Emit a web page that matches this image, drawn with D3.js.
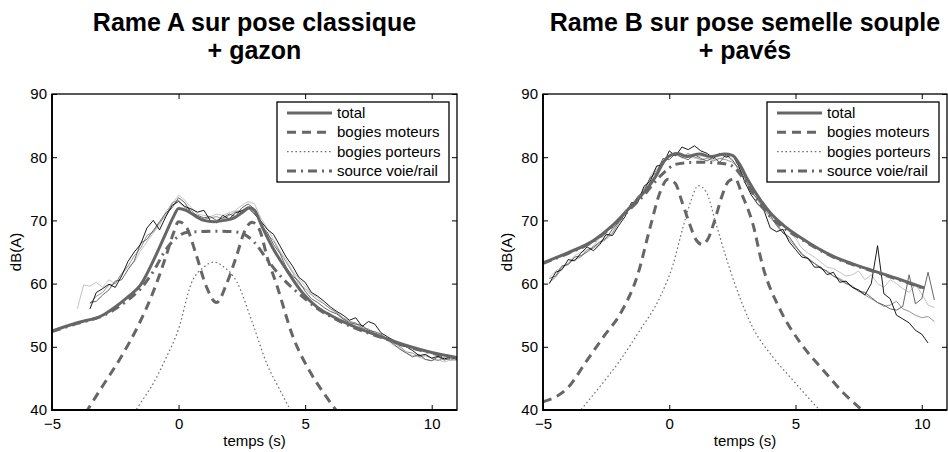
<!DOCTYPE html>
<html>
<head>
<meta charset="utf-8">
<script src="https://cdn.jsdelivr.net/npm/d3@7"></script>
<style>
  body { margin: 0; background: #fff; }
  text { font-family: "Liberation Sans", Arial, Helvetica, sans-serif; }
</style>
</head>
<body>
<svg id="chart" width="948" height="452"></svg>
<script>
// ---------- Rame A : pose classique + gazon ----------
const titleA = ["Rame A sur pose classique", "+ gazon"];

// measured passes, sampled every 0.25 s
const timeMesA = [
  -4, -3.75, -3.5, -3.25, -3, -2.75, -2.5, -2.25, -2, -1.75, -1.5, -1.25,
  -1, -0.75, -0.5, -0.25, 0, 0.25, 0.5, 0.75, 1, 1.25, 1.5, 1.75,
  2, 2.25, 2.5, 2.75, 3, 3.25, 3.5, 3.75, 4, 4.25, 4.5, 4.75,
  5, 5.25, 5.5, 5.75, 6, 6.25, 6.5, 6.75, 7, 7.25, 7.5, 7.75,
  8, 8.25, 8.5, 8.75, 9, 9.25, 9.5, 9.75, 10, 10.25, 10.5, 10.75, 11
];
const mesA1 = [
  null, null, 56.0, 58.6,  59.2, 59.9, 59.4, 61.2,  63.5, 65.0, 66.2, 68.8,
  70.0, 68.5, 70.6, 72.4,  73.0, 72.2, 71.8, 71.3,  71.6, 70.0, 69.6, 70.8,
  70.2, 71.2, 71.5, 72.0,  71.0, 69.9, 68.6, 67.8,  66.0, 64.2, 62.8, 61.0,
  60.2, 58.6, 58.0, 57.2,  56.3, 55.6, 55.0, 54.2,  54.6, 53.2, 54.0, 53.6,
  52.2, 51.6, 51.0, 50.2,  50.0, 49.4, 48.6, 48.8,  48.2, 48.5, 48.1, 48.4, 48.0
];
const mesA2 = [
  null, null, 57.0, 57.2,  58.2, 59.0, 60.4, 60.6,  62.2, 63.6, 66.4, 67.0,
  68.4, 69.8, 71.2, 72.0,  73.6, 72.8, 71.2, 70.8,  70.4, 70.6, 70.0, 70.4,
  71.0, 70.6, 72.0, 72.6,  71.8, 69.2, 68.2, 66.2,  64.8, 62.6, 61.2, 60.4,
  58.8, 57.6, 57.0, 56.2,  55.6, 55.2, 54.4, 53.8,  53.6, 53.4, 52.6, 52.4,
  52.0, 51.2, 50.4, 49.6,  49.0, 48.4, 48.8, 48.0,  47.8, 48.4, 47.9, 48.2, 48.1
];
const mesA3 = [
  null, null, 56.8, 58.0,  58.6, 59.8, 60.0, 61.6,  62.8, 64.4, 65.6, 67.6,
  68.2, 69.6, 70.8, 72.8,  73.2, 72.0, 71.6, 70.6,  70.2, 70.4, 70.6, 70.2,
  70.8, 71.4, 71.6, 72.2,  71.2, 69.6, 67.8, 66.8,  65.0, 63.4, 61.8, 60.0,
  59.2, 58.2, 57.4, 56.8,  56.0, 55.4, 54.6, 54.0,  53.8, 53.0, 52.8, 52.2,
  51.8, 51.0, 50.6, 50.0,  49.2, 49.0, 48.4, 48.6,  48.2, 47.8, 48.3, 47.9, 48.2
];
const mesA4 = [
  56.0, 59.8, 59.6, 60.2,  59.4, 60.6, 60.0, 61.4,  62.6, 63.4, 65.2, 66.6,
  68.0, 69.2, 71.4, 72.6,  74.0, 73.2, 72.0, 71.0,  70.8, 70.6, 71.0, 70.8,
  71.2, 71.6, 72.4, 73.0,  72.6, 70.4, 68.8, 67.0,  65.2, 63.8, 62.0, 60.8,
  59.6, 58.4, 57.8, 56.8,  56.0, 55.4, 54.4, 54.0,  53.6, 53.0, 52.8, 52.2,
  51.6, 51.0, 50.2, 49.8,  49.0, 48.6, 48.4, 48.0,  47.8, 48.0, 47.6, 47.9, 47.8
];

// model: total and its three contributions
const totA_t = [-5, -4, -3, -2.5, -2, -1.5, -1, -0.5, -0.2, 0, 0.3, 0.7, 1.0, 1.4, 1.8, 2.2, 2.5, 2.8, 3.0, 3.3, 3.7, 4.26, 4.9, 5.5, 6, 6.5, 7, 8, 9, 10, 11];
const totA_v = [52.5, 53.8, 55.0, 56.3, 57.9, 59.8, 63.6, 68.0, 70.6, 71.9, 71.6, 70.6, 70.0, 69.8, 70.0, 70.4, 71.2, 72.0, 71.6, 69.0, 65.8, 62.2, 58.5, 56.2, 55.0, 54.0, 53.1, 51.6, 50.2, 49.1, 48.3];

const motA_t = [-4, -3.6, -3, -2.3, -1.6, -1, -0.5, -0.2, 0, 0.3, 0.7, 1.1, 1.5, 1.9, 2.3, 2.6, 2.9, 3.2, 3.5, 3.9, 4.5, 5.2, 5.8, 6.5];
const motA_v = [37.5, 40.0, 43.8, 48.2, 53.3, 58.7, 64.3, 68.0, 69.8, 69.0, 64.5, 59.5, 57.0, 60.0, 64.5, 68.2, 69.7, 68.5, 64.2, 59.5, 51.8, 46.0, 42.3, 38.5];

const porA_t = [-2, -1.6, -1, -0.5, 0, 0.5, 1.0, 1.4, 1.8, 2.3, 2.9, 3.5, 4.0, 4.4, 4.8];
const porA_v = [37.8, 40.5, 44.2, 48.2, 52.8, 60.0, 62.6, 63.4, 62.6, 60.3, 54.0, 47.2, 43.2, 40.2, 37.8];

const srcA_t = [-5, -4, -3, -2, -1.5, -1, -0.5, 0, 0.3, 0.7, 1.5, 2.2, 2.6, 3.0, 3.5, 4, 4.5, 5, 5.5, 6, 7, 8, 9, 10, 11];
const srcA_v = [52.4, 53.7, 54.9, 57.4, 59.2, 61.9, 65.4, 67.5, 68.1, 68.2, 68.3, 68.2, 67.8, 66.5, 63.8, 61.3, 59.3, 57.6, 56.0, 54.8, 52.9, 51.5, 50.1, 49.0, 48.2];

// ---------- Rame B : pose semelle souple + pavés ----------
const titleB = ["Rame B sur pose semelle souple", "+ pavés"];

const timeMesB = [
  -5, -4.75, -4.5, -4.25, -4, -3.75, -3.5, -3.25, -3, -2.75, -2.5, -2.25,
  -2, -1.75, -1.5, -1.25, -1, -0.75, -0.5, -0.25, 0, 0.25, 0.5, 0.75,
  1, 1.25, 1.5, 1.75, 2, 2.25, 2.5, 2.75, 3, 3.25, 3.5, 3.75,
  4, 4.25, 4.5, 4.75, 5, 5.25, 5.5, 5.75, 6, 6.25, 6.5, 6.75,
  7, 7.25, 7.5, 7.75, 8, 8.25, 8.5, 8.75, 9, 9.25, 9.5, 9.75,
  10, 10.25, 10.5
];
const mesB1 = [
  null, 60.0, 61.8, 62.2,  63.8, 63.6, 64.8, 65.8,  65.2, 66.2, 67.8, 67.6,
  69.2, 70.6, 72.8, 72.8,  75.4, 76.2, 78.6, 78.8,  81.0, 80.2, 81.6, 81.2,
  81.8, 81.0, 80.6, 79.8,  80.6, 80.0, 80.4, 78.6,  76.0, 74.0, 72.6, 71.6,
  68.8, 68.2, 68.6, 66.6,  65.4, 64.2, 64.0, 62.6,  62.6, 61.4, 61.8, 60.2,
  60.4, 59.4, 59.0, 58.2,  60.0, 66.0, 58.4, 57.6,  55.0, 54.4, 53.8, 52.6,
  52.0, 50.6, null
];
const mesB2 = [
  null, 60.8, 61.2, 62.8,  63.0, 64.2, 64.4, 65.0,  65.8, 66.6, 67.2, 68.6,
  69.8, 71.2, 72.0, 73.8,  74.6, 76.8, 77.6, 79.8,  79.6, 80.6, 80.0, 79.6,
  80.4, 79.8, 79.4, 80.0,  79.2, 80.4, 79.6, 78.0,  76.6, 74.4, 73.4, 72.0,
  70.8, 69.2, 68.0, 67.4,  66.0, 64.6, 64.0, 63.2,  62.4, 62.0, 61.2, 60.6,
  60.0, 59.6, 58.8, 58.6,  57.8, 57.0, 56.6, 56.0,  55.8, 56.4, 61.4, 56.8,
  57.6, 61.8, 57.4
];
const mesB3 = [
  null, 60.2, 61.0, 62.4,  63.2, 63.8, 64.2, 65.4,  65.6, 66.4, 67.0, 68.0,
  69.6, 71.0, 72.4, 73.2,  75.0, 76.6, 78.0, 79.2,  80.2, 80.4, 80.0, 80.6,
  80.0, 79.6, 79.8, 79.4,  79.8, 79.6, 79.2, 78.4,  76.8, 74.8, 73.2, 71.8,
  70.4, 69.4, 68.2, 67.0,  65.8, 64.8, 63.8, 63.2,  62.6, 61.8, 61.2, 60.8,
  60.2, 59.4, 58.8, 58.2,  57.6, 57.0, 56.4, 56.6,  57.2, 56.0, 55.6, 55.0,
  54.6, 54.8, 54.0
];
const mesB4 = [
  null, 61.0, 62.0, 62.6,  63.2, 64.4, 65.0, 65.2,  66.0, 67.2, 67.6, 68.0,
  70.0, 71.6, 72.0, 73.6,  74.4, 77.0, 78.4, 79.4,  80.0, 80.8, 79.8, 80.4,
  79.8, 80.2, 80.0, 79.6,  79.8, 80.2, 79.4, 78.8,  77.0, 75.6, 73.8, 72.6,
  71.0, 70.0, 69.6, 68.2,  67.2, 65.6, 64.8, 64.2,  63.4, 62.6, 62.4, 61.8,
  61.2, 61.4, 62.0, 60.6,  61.4, 60.0, 59.4, 60.6,  60.0, 59.2, 58.6, 59.8,
  58.4, 56.6, 56.2
];

const totB_t = [-5, -4, -3, -2.3, -1.5, -0.9, -0.5, -0.2, 0.1, 0.35, 0.7, 1.2, 1.65, 2.2, 2.5, 2.8, 3.1, 3.6, 4.0, 4.5, 5.2, 6.5, 7.8, 9.1, 10.1];
const totB_v = [63.3, 64.9, 66.8, 69.0, 72.3, 74.9, 77.2, 79.4, 80.4, 80.6, 80.1, 80.5, 80.1, 80.5, 80.3, 78.8, 76.5, 73.3, 71.2, 69.3, 67.3, 64.3, 62.4, 60.7, 59.3];

const motB_t = [-5, -4, -3.25, -2.6, -1.9, -1.25, -0.75, -0.36, -0.05, 0.25, 0.5, 0.8, 1.05, 1.3, 1.55, 1.8, 2.1, 2.35, 2.6, 2.9, 3.3, 3.7, 4.4, 5.2, 6.1, 6.9, 7.55, 8.2];
const motB_v = [41.3, 43.6, 47.9, 51.6, 55.5, 61.4, 69.0, 74.5, 76.5, 75.8, 73.0, 69.5, 67.0, 66.2, 67.2, 70.0, 74.0, 76.2, 76.6, 73.9, 69.6, 62.8, 55.8, 50.6, 46.3, 42.7, 40.3, 38.2];

const porB_t = [-3.8, -3.4, -2.85, -1.94, -1.15, -0.36, 0.15, 0.55, 0.85, 1.15, 1.45, 1.85, 2.2, 2.55, 3.3, 4.1, 4.9, 5.7, 6.2];
const porB_v = [38.5, 40.5, 43.2, 47.9, 52.7, 57.9, 63.0, 69.0, 73.0, 75.5, 74.6, 69.5, 64.8, 60.5, 53.1, 48.4, 44.7, 41.1, 39.0];

const srcB_t = [-5, -4, -3, -2.3, -1.5, -1, -0.5, -0.2, 0.2, 0.6, 1.2, 1.8, 2.3, 2.6, 2.9, 3.2, 3.6, 4.0, 4.5, 5.2, 6.5, 7.8, 9.1, 10.1];
const srcB_v = [63.2, 64.8, 66.7, 68.9, 72.0, 74.0, 76.4, 77.6, 78.8, 79.1, 79.2, 79.1, 78.9, 78.3, 76.8, 75.0, 72.6, 70.6, 68.9, 67.1, 64.2, 62.3, 60.6, 59.2];

// ---------- shared axis / legend text ----------
const xTicks = [-5, 0, 5, 10];
const yTicks = [40, 50, 60, 70, 80, 90];
const xLabel = "temps (s)";
const yLabel = "dB(A)";
const legendLabels = ["total", "bogies moteurs", "bogies porteurs", "source voie/rail"];

// ---------- styles ----------
const modelColor = "#666666";
const mesColors = ["#000000", "#555555", "#8a8a8a", "#bdbdbd"];
const modelStyles = [
  { width: 3,   dash: null,        color: modelColor },   // total
  { width: 3,   dash: "9,6",       color: modelColor },   // bogies moteurs
  { width: 1.2, dash: "1.6,2.6",   color: "#707070" },    // bogies porteurs
  { width: 3,   dash: "9,5,2,5",   color: modelColor }    // source voie/rail
];

const zip = (t, v) => t.map((d, i) => [d, v[i]]);

const panels = [
  {
    x0: 52, x1: 457, title: titleA,
    mesTime: timeMesA, mes: [mesA4, mesA3, mesA2, mesA1],
    models: [zip(totA_t, totA_v), zip(motA_t, motA_v), zip(porA_t, porA_v), zip(srcA_t, srcA_v)]
  },
  {
    x0: 543, x1: 947, title: titleB,
    mesTime: timeMesB, mes: [mesB4, mesB3, mesB2, mesB1],
    models: [zip(totB_t, totB_v), zip(motB_t, motB_v), zip(porB_t, porB_v), zip(srcB_t, srcB_v)]
  }
];
const mesColorOrder = [mesColors[3], mesColors[2], mesColors[1], mesColors[0]];

const yTop = 94, yBot = 410;
const svg = d3.select("#chart");
const fmt = d => d < 0 ? "\u2212" + Math.abs(d) : String(d);

panels.forEach((p, pi) => {
  const x = d3.scaleLinear().domain([-5, 11]).range([p.x0, p.x1]);
  const y = d3.scaleLinear().domain([40, 90]).range([yBot, yTop]);
  const g = svg.append("g");
  const cx = (p.x0 + p.x1) / 2;

  const clipId = "clip" + pi;
  svg.append("clipPath").attr("id", clipId)
    .append("rect").attr("x", p.x0).attr("y", yTop)
    .attr("width", p.x1 - p.x0).attr("height", yBot - yTop);

  // title
  g.append("text").attr("x", cx).attr("text-anchor", "middle")
    .attr("font-weight", "bold").attr("font-size", 25).attr("fill", "#000")
    .selectAll("tspan").data(p.title).join("tspan")
    .attr("x", cx).attr("y", (d, i) => 31 + i * 28).text(d => d);

  const plot = g.append("g").attr("clip-path", `url(#${clipId})`);

  // measured passes
  const mesLine = d3.line()
    .defined(d => d[1] != null)
    .x(d => x(d[0])).y(d => y(d[1]));
  p.mes.forEach((vals, i) => {
    plot.append("path")
      .datum(p.mesTime.map((t, k) => [t, vals[k]]))
      .attr("d", mesLine)
      .attr("fill", "none")
      .attr("stroke", mesColorOrder[i])
      .attr("stroke-width", 0.9)
      .attr("stroke-linejoin", "round");
  });

  // model curves (contributions first, total on top)
  const modelLine = d3.line().curve(d3.curveMonotoneX)
    .x(d => x(d[0])).y(d => y(d[1]));
  [2, 1, 3, 0].forEach(k => {
    const s = modelStyles[k];
    plot.append("path")
      .datum(p.models[k])
      .attr("d", modelLine)
      .attr("fill", "none")
      .attr("stroke", s.color)
      .attr("stroke-width", s.width)
      .attr("stroke-dasharray", s.dash)
      .attr("stroke-linejoin", "round");
  });

  // axes with inward ticks on all four sides
  const axB = g.append("g").attr("transform", `translate(0,${yBot})`)
    .call(d3.axisBottom(x).tickValues(xTicks).tickSizeInner(-5).tickSizeOuter(0).tickPadding(8).tickFormat(fmt));
  const axT = g.append("g").attr("transform", `translate(0,${yTop})`)
    .call(d3.axisTop(x).tickValues(xTicks).tickSizeInner(-5).tickSizeOuter(0).tickFormat(""));
  const axL = g.append("g").attr("transform", `translate(${p.x0},0)`)
    .call(d3.axisLeft(y).tickValues(yTicks).tickSizeInner(-5).tickSizeOuter(0).tickPadding(5).tickFormat(fmt));
  const axR = g.append("g").attr("transform", `translate(${p.x1},0)`)
    .call(d3.axisRight(y).tickValues(yTicks).tickSizeInner(-5).tickSizeOuter(0).tickFormat(""));
  [axB, axT, axL, axR].forEach(a => {
    a.select(".domain").remove();
    a.selectAll(".tick line").attr("stroke", "#000").attr("stroke-width", 1);
    a.selectAll(".tick text").attr("font-size", 15).attr("fill", "#000")
      .attr("font-family", "Liberation Sans, Arial, sans-serif");
  });

  // box
  g.append("rect").attr("x", p.x0).attr("y", yTop)
    .attr("width", p.x1 - p.x0).attr("height", yBot - yTop)
    .attr("fill", "none").attr("stroke", "#000").attr("stroke-width", 1.3);
  g.append("path")
    .attr("d", `M${p.x0},${yTop}V${yBot}H${p.x1}`)
    .attr("fill", "none").attr("stroke", "#000").attr("stroke-width", 1.8);

  // axis labels
  g.append("text").attr("x", cx).attr("y", 446).attr("text-anchor", "middle")
    .attr("font-size", 15).attr("fill", "#000").text(xLabel);
  g.append("text")
    .attr("transform", `translate(${p.x0 - 31},${(yTop + yBot) / 2}) rotate(-90)`)
    .attr("text-anchor", "middle").attr("font-size", 15).attr("fill", "#000").text(yLabel);

  // legend
  const lw = 172, lh = 80;
  const lx = p.x1 - 8 - lw, ly = 102;
  const leg = g.append("g");
  leg.append("rect").attr("x", lx).attr("y", ly).attr("width", lw).attr("height", lh)
    .attr("fill", "#fff").attr("stroke", "#000").attr("stroke-width", 1.3);
  legendLabels.forEach((lab, i) => {
    const s = modelStyles[i];
    const yy = ly + 11 + i * 19.3;
    leg.append("line").attr("x1", lx + 10).attr("x2", lx + 55)
      .attr("y1", yy).attr("y2", yy)
      .attr("stroke", s.color).attr("stroke-width", s.width)
      .attr("stroke-dasharray", s.dash);
    leg.append("text").attr("x", lx + 60).attr("y", yy + 5)
      .attr("font-size", 15).attr("fill", "#000").text(lab);
  });
});
</script>
</body>
</html>
